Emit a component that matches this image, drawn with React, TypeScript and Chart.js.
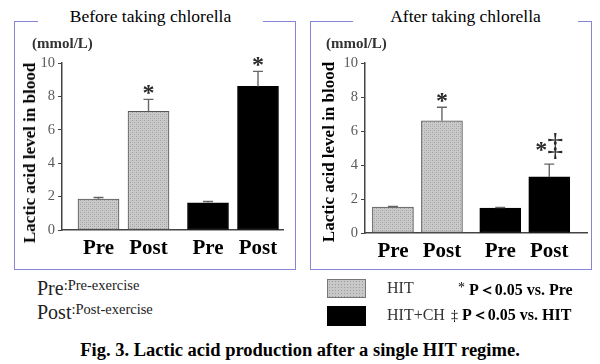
import React, { useEffect, useRef } from 'react';
import { Chart, registerables } from 'chart.js';
Chart.register(...registerables);

// ---- data ----
const categories = ['Pre', 'Post', 'Pre', 'Post'];
const groupSlots = [0, 1, 2.19, 3.19];
const yTicks = [0, 2, 4, 6, 8, 10];

const beforeHIT = [1.85, 7.1];
const beforeHITErr = [0.1, 0.72];
const beforeHITMarks = ['', '*'];
const beforeHITCH = [1.63, 8.6];
const beforeHITCHErr = [0.08, 0.9];
const beforeHITCHMarks = ['', '*'];

const afterHIT = [1.52, 6.6];
const afterHITErr = [0.04, 0.8];
const afterHITMarks = ['', '*'];
const afterHITCH = [1.46, 3.3];
const afterHITCHErr = [0.04, 0.75];
const afterHITCHMarks = ['', '*‡'];

const SERIF = '"Liberation Serif", "Times New Roman", serif';

function makeStipple(): CanvasPattern | string {
  const c = document.createElement('canvas');
  c.width = 4;
  c.height = 4;
  const g = c.getContext('2d');
  if (!g) return '#c4c4c4';
  g.fillStyle = '#cbcbcb';
  g.fillRect(0, 0, 4, 4);
  g.fillStyle = '#9e9e9e';
  g.fillRect(0, 0, 1, 1);
  g.fillRect(2, 2, 1, 1);
  g.fillStyle = '#b6b6b6';
  g.fillRect(2, 0, 1, 1);
  g.fillRect(0, 2, 1, 1);
  return g.createPattern(c, 'repeat') || '#c4c4c4';
}

const errorPlugin = {
  id: 'errorMarks',
  afterDatasetsDraw(chart: any) {
    const ctx = chart.ctx;
    const yScale = chart.scales.y;
    chart.data.datasets.forEach((ds: any, di: number) => {
      const meta = chart.getDatasetMeta(di);
      meta.data.forEach((bar: any, i: number) => {
        const v = ds.data[i].y;
        const e = ds.errors[i];
        const yTop = yScale.getPixelForValue(v + e);
        const yBar = yScale.getPixelForValue(v);
        ctx.save();
        ctx.strokeStyle = '#666';
        ctx.lineWidth = 1.4;
        ctx.beginPath();
        ctx.moveTo(bar.x, yBar);
        ctx.lineTo(bar.x, yTop);
        ctx.moveTo(bar.x - 5, yTop);
        ctx.lineTo(bar.x + 5, yTop);
        ctx.stroke();
        const mark: string = ds.marks[i];
        if (mark) {
          ctx.fillStyle = '#2a2a2a';
          ctx.textAlign = 'left';
          ctx.textBaseline = 'alphabetic';
          const chars = Array.from(mark);
          const fonts = chars.map((c) => (c === '‡' ? `32px ${SERIF}` : `bold 24px ${SERIF}`));
          const ms = chars.map((c, k) => {
            ctx.font = fonts[k];
            return ctx.measureText(c);
          });
          const totalW = ms.reduce((s: number, m: any) => s + m.width, 0);
          const maxH = Math.max(...ms.map((m: any) => m.actualBoundingBoxAscent + m.actualBoundingBoxDescent));
          const cy = yTop - 5 - maxH / 2;
          let x = bar.x - totalW / 2;
          chars.forEach((c, k) => {
            const m: any = ms[k];
            ctx.font = fonts[k];
            const y0 = cy + (m.actualBoundingBoxAscent - m.actualBoundingBoxDescent) / 2;
            ctx.fillText(c, x, y0);
            x += m.width;
          });
        }
        ctx.restore();
      });
    });
  },
};

type PanelProps = {
  left: number;
  top: number;
  width: number;
  height: number;
  hit: number[];
  hitErr: number[];
  hitMarks: string[];
  ch: number[];
  chErr: number[];
  chMarks: string[];
  xMin: number;
  xMax: number;
  yAxisWidth: number;
  xAxisHeight: number;
  padTop: number;
  padRight: number;
};

function Panel(p: PanelProps) {
  const ref = useRef<HTMLCanvasElement>(null);
  useEffect(() => {
    if (!ref.current) return;
    const stipple = makeStipple();
    const chart = new Chart(ref.current, {
      type: 'bar',
      data: {
        datasets: [
          {
            label: 'HIT',
            data: p.hit.map((v, i) => ({ x: groupSlots[i], y: v })),
            errors: p.hitErr,
            marks: p.hitMarks,
            backgroundColor: stipple,
            borderColor: '#555',
            borderWidth: 1,
            borderSkipped: false,
          } as any,
          {
            label: 'HIT+CH',
            data: p.ch.map((v, i) => ({ x: groupSlots[i + 2], y: v })),
            errors: p.chErr,
            marks: p.chMarks,
            backgroundColor: '#000',
            borderColor: '#000',
            borderWidth: 1,
            borderSkipped: false,
          } as any,
        ],
      },
      options: {
        animation: false,
        responsive: false,
        maintainAspectRatio: false,
        layout: { padding: { top: p.padTop, right: p.padRight, bottom: 0, left: 0 } },
        datasets: { bar: { grouped: false, barThickness: 41 } as any },
        plugins: { legend: { display: false }, tooltip: { enabled: false } },
        scales: {
          x: {
            type: 'linear',
            min: p.xMin,
            max: p.xMax,
            offset: false,
            grid: { display: false, drawTicks: false },
            border: { display: true, color: '#444', width: 1.5 },
            afterBuildTicks: (s: any) => {
              s.ticks = groupSlots.map((v) => ({ value: v }));
            },
            afterFit: (s: any) => {
              s.height = p.xAxisHeight;
            },
            ticks: {
              autoSkip: false,
              maxRotation: 0,
              padding: 6,
              color: '#000',
              font: { family: SERIF, size: 21, weight: 'bold' },
              callback: (_v: any, i: number) => categories[i],
            },
          } as any,
          y: {
            min: 0,
            max: 10,
            afterBuildTicks: (s: any) => {
              s.ticks = yTicks.map((v) => ({ value: v }));
            },
            afterFit: (s: any) => {
              s.width = p.yAxisWidth;
            },
            grid: { drawOnChartArea: false, drawTicks: true, tickLength: 4, color: '#444' },
            border: { color: '#444', width: 1.5 },
            ticks: { color: '#5a5a5a', padding: 3, font: { family: SERIF, size: 14.5 } },
          } as any,
        },
      },
      plugins: [errorPlugin],
    });
    return () => chart.destroy();
  }, []);
  return (
    <canvas
      ref={ref}
      width={p.width}
      height={p.height}
      style={{ position: 'absolute', left: p.left, top: p.top, width: p.width, height: p.height }}
    />
  );
}

const abs = (s: React.CSSProperties): React.CSSProperties => ({ position: 'absolute', ...s });

export default function App() {
  const boxBorder = '1.5px solid #8484d4';
  return (
    <div
      style={{
        position: 'absolute',
        left: 0,
        top: 0,
        width: 600,
        height: 364,
        background: '#fff',
        fontFamily: SERIF,
        color: '#000',
        overflow: 'hidden',
      }}
    >
      {/* panel boxes */}
      <div style={abs({ left: 14, top: 21, width: 282, height: 249, border: boxBorder, boxSizing: 'border-box' })} />
      <div style={abs({ left: 310, top: 21, width: 282, height: 249, border: boxBorder, boxSizing: 'border-box' })} />
      <div style={abs({ left: 38, top: 6, width: 225, height: 20, lineHeight: '20px', background: '#fff', textAlign: 'center', fontSize: 17.5 })}>
        Before taking chlorella
      </div>
      <div style={abs({ left: 353, top: 6, width: 225, height: 20, lineHeight: '20px', background: '#fff', textAlign: 'center', fontSize: 17.5 })}>
        After taking chlorella
      </div>

      <Panel
        left={16}
        top={24}
        width={278}
        height={245}
        hit={beforeHIT}
        hitErr={beforeHITErr}
        hitMarks={beforeHITMarks}
        ch={beforeHITCH}
        chErr={beforeHITCHErr}
        chMarks={beforeHITCHMarks}
        xMin={-0.73}
        xMax={3.69}
        yAxisWidth={46}
        xAxisHeight={39}
        padTop={39}
        padRight={11}
      />
      <Panel
        left={312}
        top={24}
        width={278}
        height={245}
        hit={afterHIT}
        hitErr={afterHITErr}
        hitMarks={afterHITMarks}
        ch={afterHITCH}
        chErr={afterHITCHErr}
        chMarks={afterHITCHMarks}
        xMin={-0.57}
        xMax={3.96}
        yAxisWidth={53}
        xAxisHeight={36}
        padTop={39}
        padRight={3}
      />

      {/* unit labels */}
      <div style={abs({ left: 32, top: 35, fontSize: 15, fontWeight: 'bold', color: '#333', whiteSpace: 'nowrap' })}>(mmol/L)</div>
      <div style={abs({ left: 326, top: 35, fontSize: 15, fontWeight: 'bold', color: '#333', whiteSpace: 'nowrap' })}>(mmol/L)</div>

      {/* y axis titles */}
      <div
        style={abs({
          left: 30,
          top: 153,
          transform: 'translate(-50%, -50%) rotate(-90deg)',
          fontSize: 17,
          fontWeight: 'bold',
          whiteSpace: 'nowrap',
        })}
      >
        Lactic acid level in blood
      </div>
      <div
        style={abs({
          left: 329,
          top: 152,
          transform: 'translate(-50%, -50%) rotate(-90deg)',
          fontSize: 17,
          fontWeight: 'bold',
          whiteSpace: 'nowrap',
        })}
      >
        Lactic acid level in blood
      </div>

      {/* left legend */}
      <div style={abs({ left: 37, top: 277, whiteSpace: 'nowrap', color: '#222' })}>
        <span style={{ fontSize: 20 }}>Pre</span>
        <span style={{ fontSize: 14.5, verticalAlign: 5 }}>:Pre-exercise</span>
      </div>
      <div style={abs({ left: 37, top: 301, whiteSpace: 'nowrap', color: '#222' })}>
        <span style={{ fontSize: 20 }}>Post</span>
        <span style={{ fontSize: 14.5, verticalAlign: 5 }}>:Post-exercise</span>
      </div>

      {/* right legend */}
      <div
        style={abs({
          left: 327,
          top: 279,
          width: 39,
          height: 19,
          boxSizing: 'border-box',
          border: '1px solid #777',
          backgroundColor: '#c8c8c8',
          backgroundImage: 'radial-gradient(#9a9a9a 0.6px, transparent 0.9px)',
          backgroundSize: '3px 3px',
        })}
      />
      <div style={abs({ left: 327, top: 306, width: 39, height: 20, background: '#000' })} />
      <div style={abs({ left: 387, top: 278, fontSize: 16, lineHeight: '20px', color: '#333', whiteSpace: 'nowrap' })}>HIT</div>
      <div style={abs({ left: 387, top: 305, fontSize: 16, lineHeight: '20px', color: '#333', whiteSpace: 'nowrap' })}>HIT+CH</div>
      <div style={abs({ left: 458, top: 278, fontSize: 16, lineHeight: '20px', fontWeight: 'bold', whiteSpace: 'nowrap' })}>
        <span style={{ fontWeight: 'normal', fontSize: 14, verticalAlign: 3 }}>*</span> P＜0.05 vs. Pre
      </div>
      <div style={abs({ left: 451, top: 305, fontSize: 16, lineHeight: '20px', fontWeight: 'bold', whiteSpace: 'nowrap' })}>
        <span style={{ fontWeight: 'normal', fontSize: 14 }}>‡</span> P＜0.05 vs. HIT
      </div>

      {/* caption */}
      <div style={abs({ left: 0, width: 600, top: 340, textAlign: 'center', fontSize: 18.5, fontWeight: 'bold', whiteSpace: 'nowrap' })}>
        Fig. 3. Lactic acid production after a single HIT regime.
      </div>
    </div>
  );
}
